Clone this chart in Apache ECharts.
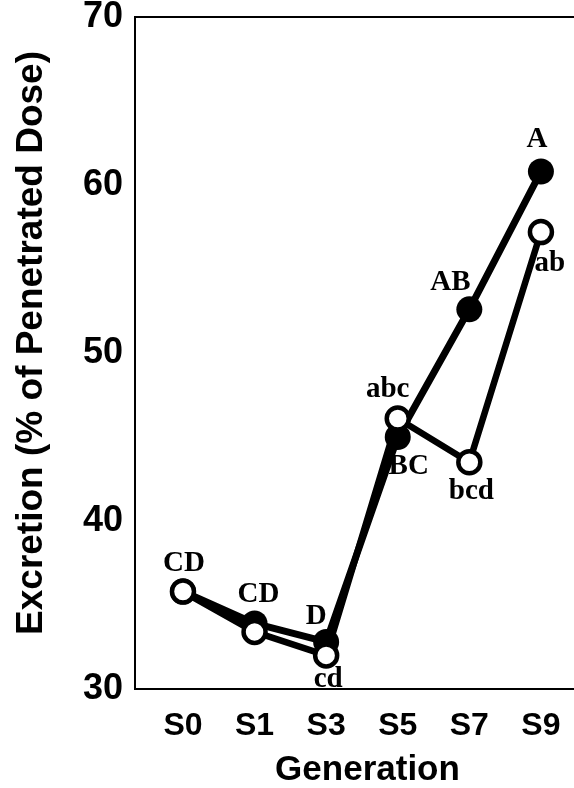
<!DOCTYPE html>
<html>
<head>
<meta charset="utf-8">
<script src="https://cdn.jsdelivr.net/npm/echarts@6/dist/echarts.min.js"></script>
<style>
html,body{margin:0;padding:0;background:#fff;}
#chart{width:574px;height:788px;}
</style>
</head>
<body>
<div id="chart"></div>
<script>
// ---- data ----
const categories = ['S0', 'S1', 'S3', 'S5', 'S7', 'S9'];
const filledValues = [35.8, 33.9, 32.8, 45.0, 52.6, 60.8];
const openValues = [35.8, 33.4, 32.0, 46.1, 43.5, 57.2];
const filledLetters = ['CD', 'CD', 'D', 'BC', 'AB', 'A'];
const openLetters = ['', '', 'cd', 'abc', 'bcd', 'ab'];
const yTicks = [30, 40, 50, 60, 70];

// ---- label placement (style only) ----
const filledLabelOffsets = [[1, -28], [4, -29], [-10, -25], [11, 30], [-19, -27], [-4, -32]];
const openLabelOffsets = [[0, 0], [0, 0], [2, 24], [-10, -29], [2, 29], [9, 31]];

const letterStyle = {
  fontFamily: '"Liberation Serif", "Times New Roman", serif',
  fontWeight: 'bold',
  fontSize: 29,
  color: '#000'
};

function buildData(values, letters, offsets) {
  return values.map((v, i) => ({
    value: [i, v],
    label: {
      show: letters[i] !== '',
      formatter: letters[i],
      position: 'inside',
      offset: offsets[i],
      ...letterStyle
    }
  }));
}

const chart = echarts.init(document.getElementById('chart'), null, {renderer: 'canvas'});
const sansBold = {fontFamily: '"Liberation Sans", Arial, Helvetica, sans-serif', fontWeight: 'bold', color: '#000'};

chart.setOption({
  animation: false,
  backgroundColor: '#fff',
  grid: {
    left: 135, right: -2, top: 17, bottom: 99,
    show: true, borderColor: '#000', borderWidth: 2,
    containLabel: false, outerBoundsMode: 'none'
  },
  xAxis: {
    type: 'value',
    min: -0.67,
    max: 5.49,
    name: 'Generation',
    nameLocation: 'middle',
    nameGap: 64,
    nameTextStyle: {...sansBold, fontSize: 35, padding: [0, 0, 0, 24]},
    axisLine: {show: true, onZero: false, lineStyle: {color: '#000', width: 2}},
    axisTick: {show: false},
    splitLine: {show: false},
    axisLabel: {
      ...sansBold, fontSize: 32, margin: 21,
      showMinLabel: false, showMaxLabel: false,
      formatter: function (v) {
        const r = Math.round(v);
        return Math.abs(v - r) < 1e-6 && categories[r] ? categories[r] : '';
      }
    }
  },
  yAxis: {
    type: 'value',
    min: yTicks[0],
    max: yTicks[yTicks.length - 1],
    interval: 10,
    name: 'Excretion (% of Penetrated Dose)',
    nameLocation: 'middle',
    nameGap: 85,
    nameRotate: 90,
    nameTextStyle: {...sansBold, fontSize: 37, padding: [0, 0, 0, 20]},
    axisLine: {show: true, onZero: false, lineStyle: {color: '#000', width: 2}},
    axisTick: {show: false},
    splitLine: {show: false},
    axisLabel: {...sansBold, fontSize: 36, margin: 12, padding: [10, 0, 0, 0], verticalAlign: 'middle'}
  },
  series: [
    {
      type: 'line',
      name: 'filled',
      data: buildData(filledValues, filledLetters, filledLabelOffsets),
      symbol: 'circle',
      symbolSize: 26,
      showAllSymbol: true,
      lineStyle: {color: '#000', width: 7},
      itemStyle: {color: '#000', borderColor: '#000', borderWidth: 0},
      emphasis: {disabled: true},
      z: 2
    },
    {
      type: 'line',
      name: 'open',
      data: buildData(openValues, openLetters, openLabelOffsets),
      symbol: 'circle',
      symbolSize: 22,
      showAllSymbol: true,
      lineStyle: {color: '#000', width: 6.5},
      itemStyle: {color: '#fff', borderColor: '#000', borderWidth: 4.5},
      emphasis: {disabled: true},
      z: 3
    }
  ]
});
</script>
</body>
</html>
